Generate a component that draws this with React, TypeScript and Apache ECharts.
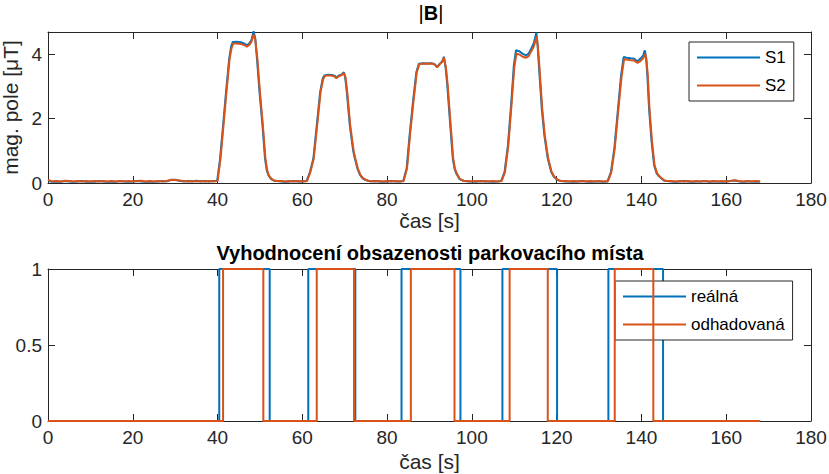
import React, { useEffect, useRef } from "react";
import * as echarts from "echarts";

// |B| — sensor S1 [time s, field µT]
const s1Points: [number, number][] = [
  [0, 0.06], [1, 0.04], [2, 0.05], [3, 0.04], [4, 0.06], [5, 0.05], [6, 0.04], [7, 0.05], [8, 0.06], [9, 0.04],
  [10, 0.05], [11, 0.04], [12, 0.06], [13, 0.05], [14, 0.04], [15, 0.05], [16, 0.04], [17, 0.06], [18, 0.05], [19, 0.04],
  [20, 0.05], [21, 0.06], [22, 0.05], [23, 0.04], [24, 0.05], [25, 0.04], [26, 0.05], [27, 0.06], [28, 0.05], [29, 0.09],
  [30, 0.1], [31, 0.07], [32, 0.05], [33, 0.06], [34, 0.05], [35, 0.07], [36, 0.05], [37, 0.06], [38, 0.05], [39, 0.06],
  [39.9, 0.06], [40.6, 0.76], [41.3, 1.79], [42.0, 2.83], [42.75, 3.87], [43.2, 4.25], [43.6, 4.39], [44.5, 4.4], [45.5, 4.38],
  [46.5, 4.33], [46.9, 4.28], [47.5, 4.35], [48.0, 4.45], [48.5, 4.72], [48.9, 4.5], [49.3, 3.87], [49.9, 2.83], [50.6, 1.79],
  [51.2, 0.76], [51.6, 0.4], [52.0, 0.24], [52.6, 0.13], [53.2, 0.08], [54, 0.06], [55, 0.05], [56, 0.04], [57, 0.05],
  [58, 0.06], [59, 0.05], [60, 0.05], [61.0, 0.06],
  [61.8, 0.34], [62.6, 0.76], [63.4, 1.79], [64.2, 2.83], [64.8, 3.25], [65.2, 3.35], [66.0, 3.37], [67.0, 3.36], [67.7, 3.33],
  [68.0, 3.28], [68.7, 3.35], [69.3, 3.38], [69.8, 3.45], [70.1, 3.3], [70.5, 2.83], [71.2, 1.79], [72.0, 1.0], [72.4, 0.76],
  [73.0, 0.45], [73.6, 0.25], [74.2, 0.15], [74.8, 0.1], [75.5, 0.07], [76, 0.05], [77, 0.06], [78, 0.05], [79, 0.04],
  [80, 0.05], [81, 0.06], [82, 0.05], [83, 0.05], [83.8, 0.06],
  [84.6, 0.45], [85.3, 1.48], [86.1, 2.52], [86.9, 3.45], [87.5, 3.71], [88.5, 3.73], [89.5, 3.72], [90.5, 3.73], [91.2, 3.7],
  [91.8, 3.61], [92.5, 3.72], [93.0, 3.78], [93.4, 3.93], [93.8, 3.6], [94.2, 3.04], [94.9, 1.79], [95.5, 0.76], [95.9, 0.45],
  [96.3, 0.3], [97.1, 0.12], [98, 0.07], [99, 0.05], [100, 0.05], [101, 0.04], [102, 0.06], [103, 0.05], [104, 0.05],
  [105, 0.04], [106, 0.05], [106.9, 0.06],
  [107.7, 0.34], [108.5, 1.17], [109.3, 2.52], [109.9, 3.66], [110.4, 4.13], [111.2, 4.1], [112.0, 4.02], [112.8, 3.97],
  [113.4, 4.03], [114.0, 4.18], [114.6, 4.35], [115.2, 4.68], [115.5, 4.3], [115.7, 3.87], [116.5, 2.3], [117.1, 1.48],
  [117.9, 0.76], [118.7, 0.35], [119.3, 0.2], [119.9, 0.12], [120.5, 0.08], [121, 0.06], [122, 0.05], [123, 0.05],
  [124, 0.04], [125, 0.05], [126, 0.06], [127, 0.05], [128, 0.04], [129, 0.05], [130, 0.05], [131, 0.04], [132, 0.05],
  [132.8, 0.34], [133.6, 1.07], [134.4, 2.21], [135.2, 3.35], [135.8, 3.92], [136.5, 3.9], [137.5, 3.88], [138.3, 3.87],
  [138.7, 3.82], [139.1, 3.79], [139.8, 3.88], [140.4, 3.96], [140.8, 4.13], [141.1, 3.9], [141.4, 3.35], [141.8, 2.31],
  [142.4, 1.28], [143.0, 0.55], [143.6, 0.3], [144.2, 0.2], [145.3, 0.08], [146, 0.06], [147, 0.05], [148, 0.04],
  [149, 0.05], [150, 0.06], [151, 0.05], [152, 0.04], [153, 0.05], [154, 0.05], [155, 0.06], [156, 0.04], [157, 0.05],
  [158, 0.05], [159, 0.04], [160, 0.05], [161, 0.06], [162, 0.08], [163, 0.05], [164, 0.04], [165, 0.05], [166, 0.05],
  [167, 0.04], [168, 0.05],
];

// |B| — sensor S2 [time s, field µT]
const s2Points: [number, number][] = [
  [0, 0.1], [0.5, 0.07], [1, 0.05], [2, 0.06], [3, 0.05], [4, 0.07], [5, 0.06], [6, 0.05], [7, 0.06], [8, 0.05], [9, 0.06],
  [10, 0.05], [11, 0.06], [12, 0.05], [13, 0.06], [14, 0.05], [15, 0.06], [16, 0.05], [17, 0.06], [18, 0.05], [19, 0.06],
  [20, 0.05], [21, 0.06], [22, 0.07], [23, 0.05], [24, 0.06], [25, 0.05], [26, 0.06], [27, 0.05], [28, 0.06], [29, 0.1],
  [30, 0.09], [31, 0.08], [32, 0.06], [33, 0.05], [34, 0.06], [35, 0.05], [36, 0.06], [37, 0.05], [38, 0.06], [39, 0.05],
  [40, 0.06], [40.7, 0.76], [41.4, 1.79], [42.1, 2.83], [42.85, 3.87], [43.3, 4.2], [43.7, 4.34], [44.5, 4.34], [45.5, 4.33],
  [46.5, 4.28], [46.9, 4.24], [47.5, 4.3], [48.0, 4.4], [48.5, 4.62], [48.9, 4.45], [49.4, 3.87], [50.0, 2.83], [50.7, 1.79],
  [51.3, 0.76], [51.7, 0.4], [52.1, 0.24], [52.7, 0.13], [53.3, 0.08], [54, 0.06], [55, 0.06], [56, 0.05], [57, 0.06],
  [58, 0.05], [59, 0.06], [60, 0.05], [61.1, 0.06],
  [61.9, 0.34], [62.7, 0.76], [63.5, 1.79], [64.3, 2.83], [64.9, 3.22], [65.3, 3.33], [66.0, 3.35], [67.0, 3.34], [67.7, 3.31],
  [68.0, 3.26], [68.7, 3.33], [69.3, 3.36], [69.8, 3.42], [70.2, 3.28], [70.6, 2.83], [71.3, 1.79], [72.1, 1.0], [72.5, 0.76],
  [73.1, 0.45], [73.7, 0.25], [74.3, 0.15], [74.9, 0.1], [75.6, 0.07], [76, 0.06], [77, 0.05], [78, 0.06], [79, 0.05],
  [80, 0.06], [81, 0.05], [82, 0.06], [83, 0.05], [83.9, 0.06],
  [84.7, 0.45], [85.4, 1.48], [86.2, 2.52], [87.0, 3.45], [87.6, 3.7], [88.5, 3.72], [89.5, 3.71], [90.5, 3.72], [91.2, 3.69],
  [91.8, 3.6], [92.5, 3.71], [93.0, 3.77], [93.4, 3.9], [93.9, 3.58], [94.3, 3.04], [95.0, 1.79], [95.6, 0.76], [96.0, 0.45],
  [96.4, 0.3], [97.2, 0.12], [98, 0.07], [99, 0.06], [100, 0.05], [101, 0.06], [102, 0.05], [103, 0.06], [104, 0.05],
  [105, 0.06], [106, 0.05], [107.0, 0.06],
  [107.8, 0.34], [108.6, 1.17], [109.4, 2.52], [110.0, 3.6], [110.5, 4.02], [111.2, 4.0], [112.0, 3.93], [112.8, 3.9],
  [113.4, 3.95], [114.0, 4.1], [114.6, 4.25], [115.3, 4.57], [115.6, 4.2], [115.8, 3.87], [116.6, 2.3], [117.2, 1.48],
  [118.0, 0.76], [118.8, 0.35], [119.4, 0.2], [120.0, 0.12], [120.6, 0.08], [121, 0.06], [122, 0.06], [123, 0.05],
  [124, 0.06], [125, 0.05], [126, 0.06], [127, 0.05], [128, 0.06], [129, 0.05], [130, 0.06], [131, 0.05], [132.1, 0.06],
  [132.9, 0.34], [133.7, 1.07], [134.5, 2.21], [135.3, 3.3], [135.9, 3.85], [136.5, 3.84], [137.5, 3.82], [138.3, 3.81],
  [138.7, 3.77], [139.1, 3.74], [139.8, 3.8], [140.4, 3.88], [140.9, 4.02], [141.2, 3.8], [141.5, 3.35], [141.9, 2.31],
  [142.5, 1.28], [143.1, 0.55], [143.7, 0.3], [144.3, 0.2], [145.4, 0.08], [146, 0.06], [147, 0.06], [148, 0.05],
  [149, 0.06], [150, 0.05], [151, 0.06], [152, 0.05], [153, 0.06], [154, 0.05], [155, 0.06], [156, 0.05], [157, 0.06],
  [158, 0.05], [159, 0.06], [160, 0.05], [161, 0.06], [162, 0.09], [163, 0.06], [164, 0.05], [165, 0.06], [166, 0.05],
  [167, 0.06], [168, 0.05],
];

// Occupancy intervals [start s, end s]
const realIntervals: [number, number][] = [
  [40.4, 52.3], [61.4, 72.5], [83.4, 97.3], [107.2, 120.1], [132.2, 145.1],
];
const estimatedIntervals: [number, number][] = [
  [41.3, 50.8], [63.4, 72.2], [85.6, 95.9], [108.9, 117.9], [133.7, 142.8],
];
const occupancyEnd = 168;

const seriesNames = ["S1", "S2"];
const occupancyNames = ["reálná", "odhadovaná"];
const topTitle = "|{b|B}|";
const bottomTitle = "Vyhodnocení obsazenosti parkovacího místa";
const xName = "čas [s]";
const yNameTop = "mag. pole [μT]";

const BLUE = "#0072BD";
const ORANGE = "#D95319";
const AXIS = "#262626";
const FONT = "'Liberation Sans', Arial, Helvetica, sans-serif";
const FS_TICK = 19;
const FS_NAME = 21;
const FS_TITLE = 20;
const FS_LEGEND = 17;
const LINE_ICON = "path://M0,0 L63,0 L63,2 L0,2 Z";

function toSteps(intervals: [number, number][], end: number): [number, number][] {
  const pts: [number, number][] = [[0, 0]];
  for (const [a, b] of intervals) {
    pts.push([a, 0], [a, 1], [b, 1], [b, 0]);
  }
  pts.push([end, 0]);
  return pts;
}

export default function App() {
  const ref = useRef<HTMLDivElement>(null);
  useEffect(() => {
    document.body.style.margin = "0";
    if (!ref.current) return;
    const chart = echarts.init(ref.current, null, { renderer: "svg" });

    const gridL = 48;
    const gridR = 18;
    const axisLine = { show: true, onZero: false, lineStyle: { color: AXIS, width: 1 } };
    const tick = { show: true, inside: true, length: 7, lineStyle: { color: AXIS, width: 1 } };
    const label = { color: AXIS, fontSize: FS_TICK, fontFamily: FONT };
    const nameStyle = { color: AXIS, fontSize: FS_NAME, fontFamily: FONT };

    const xMain = (gridIndex: number, nameGap: number) => ({
      type: "value",
      gridIndex,
      min: 0,
      max: 180,
      interval: 20,
      position: "bottom",
      axisLine,
      axisTick: tick,
      axisLabel: { ...label, margin: 7 },
      splitLine: { show: false },
      name: xName,
      nameLocation: "middle",
      nameGap,
      nameTextStyle: nameStyle,
    });
    const xTop = (gridIndex: number) => ({
      type: "value",
      gridIndex,
      min: 0,
      max: 180,
      interval: 20,
      position: "top",
      axisLine,
      axisTick: tick,
      axisLabel: { show: false },
      splitLine: { show: false },
    });
    const yRight = (gridIndex: number, max: number, interval: number) => ({
      type: "value",
      gridIndex,
      min: 0,
      max,
      interval,
      position: "right",
      axisLine,
      axisTick: tick,
      axisLabel: { show: false },
      splitLine: { show: false },
    });

    const legendBase = {
      orient: "vertical",
      padding: [7, 8, 7, 8],
      itemGap: 11,
      itemWidth: 63,
      itemHeight: 14,
      icon: LINE_ICON,
      borderColor: AXIS,
      borderWidth: 1,
      borderRadius: 0,
      backgroundColor: "#fff",
      textStyle: { color: "#000", fontSize: FS_LEGEND, fontFamily: FONT },
    };

    const option: any = {
      animation: false,
      backgroundColor: "#ffffff",
      textStyle: { fontFamily: FONT },
      grid: [
        { left: gridL, right: gridR, top: 32, height: 151, containLabel: false, outerBoundsMode: "none" },
        { left: gridL, right: gridR, top: 269, height: 152, containLabel: false, outerBoundsMode: "none" },
      ],
      graphic: [
        {
          type: "text",
          x: 431,
          y: 13,
          style: {
            text: topTitle,
            align: "center",
            verticalAlign: "middle",
            fill: "#000",
            font: `${FS_TITLE}px ${FONT}`,
            rich: { b: { fontWeight: "bold", fontSize: FS_TITLE, fontFamily: FONT, fill: "#000" } },
          },
        },
        {
          type: "text",
          x: 430,
          y: 253,
          style: {
            text: bottomTitle,
            align: "center",
            verticalAlign: "middle",
            fill: "#000",
            font: `bold ${FS_TITLE}px ${FONT}`,
          },
        },
      ],
      legend: [
        { ...legendBase, data: seriesNames, left: 689, top: 42 },
        { ...legendBase, data: occupancyNames, left: 615, top: 281 },
      ],
      xAxis: [xMain(0, 23), xTop(0), xMain(1, 30), xTop(1)],
      yAxis: [
        {
          type: "value",
          gridIndex: 0,
          min: 0,
          max: 4.7,
          interval: 2,
          position: "left",
          axisLine,
          axisTick: tick,
          axisLabel: { ...label, margin: 6, showMaxLabel: false },
          splitLine: { show: false },
          name: yNameTop,
          nameLocation: "middle",
          nameGap: 16,
          nameRotate: 90,
          nameTextStyle: nameStyle,
        },
        yRight(0, 4.7, 2),
        {
          type: "value",
          gridIndex: 1,
          min: 0,
          max: 1,
          interval: 0.5,
          position: "left",
          axisLine,
          axisTick: tick,
          axisLabel: { ...label, margin: 6 },
          splitLine: { show: false },
        },
        yRight(1, 1, 0.5),
      ],
      series: [
        {
          name: seriesNames[0],
          type: "line",
          xAxisIndex: 0,
          yAxisIndex: 0,
          data: s1Points,
          showSymbol: false,
          symbol: "none",
          color: BLUE,
          lineStyle: { color: BLUE, width: 2 },
          z: 3,
        },
        {
          name: seriesNames[1],
          type: "line",
          xAxisIndex: 0,
          yAxisIndex: 0,
          data: s2Points,
          showSymbol: false,
          symbol: "none",
          color: ORANGE,
          lineStyle: { color: ORANGE, width: 2 },
          z: 4,
        },
        {
          name: occupancyNames[0],
          type: "line",
          xAxisIndex: 2,
          yAxisIndex: 2,
          data: toSteps(realIntervals, occupancyEnd),
          showSymbol: false,
          symbol: "none",
          clip: false,
          color: BLUE,
          lineStyle: { color: BLUE, width: 2 },
          z: 3,
        },
        {
          name: occupancyNames[1],
          type: "line",
          xAxisIndex: 2,
          yAxisIndex: 2,
          data: toSteps(estimatedIntervals, occupancyEnd),
          showSymbol: false,
          symbol: "none",
          clip: false,
          color: ORANGE,
          lineStyle: { color: ORANGE, width: 2 },
          z: 4,
        },
      ],
    };

    chart.setOption(option);
    return () => {
      chart.dispose();
    };
  }, []);

  return <div ref={ref} style={{ width: 829, height: 474 }} />;
}
